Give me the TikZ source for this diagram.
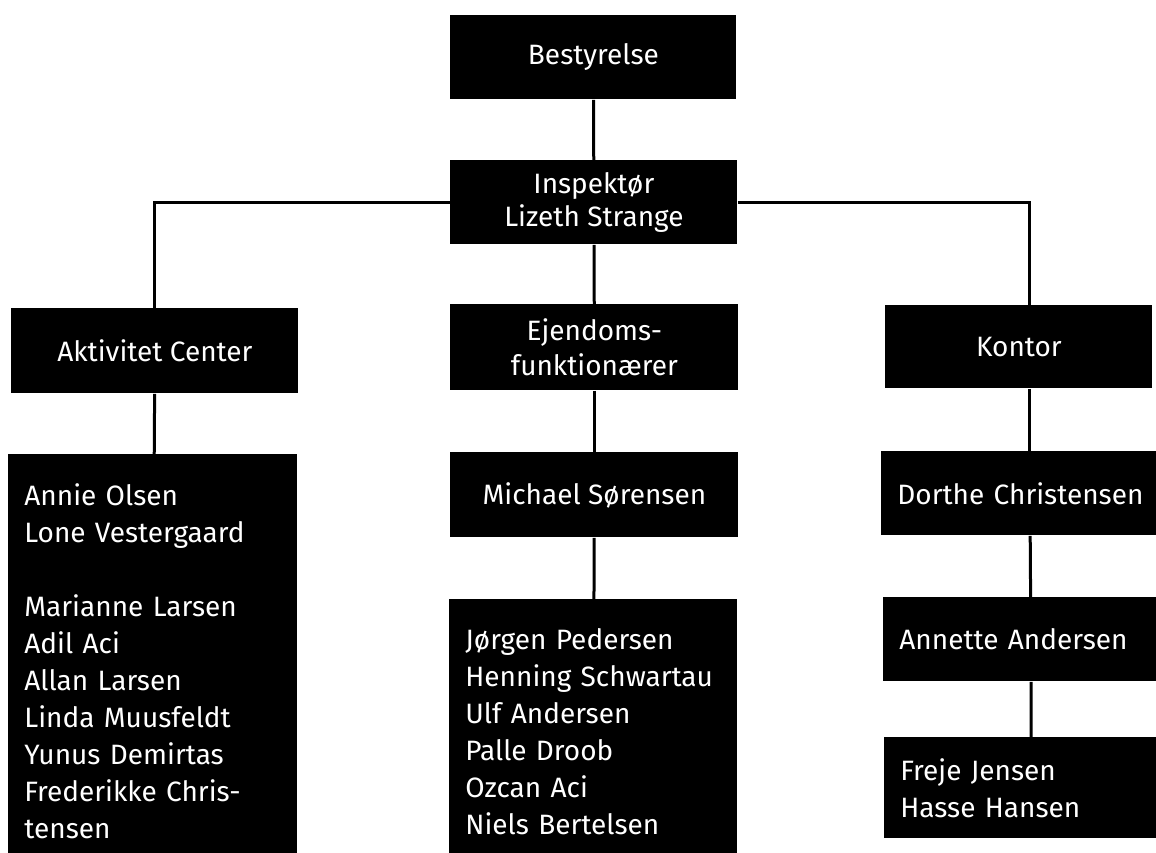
\documentclass[tikz,border=0pt]{standalone}
\usepackage{fontspec}
\setmainfont{Fira Sans}

\tikzset{
  box/.style={anchor=north west, fill=black, text=white, inner sep=0pt,
    font=\fontsize{14}{18.5}\selectfont, align=center},
  listbox/.style={box, align=left, inner xsep=8pt},
  link/.style={line width=1.5pt}
}

\begin{document}
\begin{tikzpicture}[x=0.5pt,y=0.5pt,yscale=-1,xscale=1]
\useasboundingbox (0,0) rectangle (1156,852);
\clip (0,0) rectangle (1156,852);

% Top
\node[box, minimum width=143pt, minimum height=42pt] (best) at (450,15) {Bestyrelse};
\node[box, minimum width=143.5pt, minimum height=42pt, font=\fontsize{14}{16.5}\selectfont] (insp) at (450,160) {Inspektør\\Lizeth Strange};

% Departments
\node[box, minimum width=143.5pt, minimum height=42.5pt] (akt) at (11,308) {Aktivitet Center};
\node[box, minimum width=144pt, minimum height=43pt, font=\fontsize{14}{17.5}\selectfont] (ejd) at (450,304) {Ejendoms-\\funktionærer};
\node[box, minimum width=133.5pt, minimum height=41.5pt] (kont) at (885,305) {Kontor};

% Aktivitet Center staff
\node[listbox, text width=128.5pt, minimum height=207pt] (annie) at (8,454) {Annie Olsen\\Lone Vestergaard\\[18.5pt]Marianne Larsen\\Adil Aci\\Allan Larsen\\Linda Muusfeldt\\Yunus Demirtas\\Frederikke Chris-\\tensen};

% Ejendomsfunktionærer staff
\node[box, minimum width=144pt, minimum height=42.5pt] (mich) at (450,452) {Michael Sørensen};
\node[listbox, text width=128pt, minimum height=132pt] (jorg) at (449,599) {Jørgen Pedersen\\Henning Schwartau\\Ulf Andersen\\Palle Droob\\Ozcan Aci\\Niels Bertelsen};

% Kontor staff
\node[listbox, text width=132.5pt, minimum height=42pt] (dor) at (881,451) {Dorthe Christensen};
\node[listbox, text width=131.5pt, minimum height=42pt] (ann) at (883,597) {Annette Andersen};
\node[listbox, text width=131pt, minimum height=50.5pt] (fre) at (884,737) {Freje Jensen\\Hasse Hansen};

% Links
\draw[link] (best) -- (insp);
\draw[link] (insp.west) -| (akt.north);
\draw[link] (insp.east) -| (dor.north |- kont.north);
\draw[link] (insp) -- (ejd);
\draw[link] (akt) -- (annie);
\draw[link] (ejd) -- (mich);
\draw[link] (mich) -- (jorg);
\draw[link] (dor.north |- kont.south) -- (dor);
\draw[link] (dor) -- (ann);
\draw[link] (ann) -- (fre);

\end{tikzpicture}
\end{document}
